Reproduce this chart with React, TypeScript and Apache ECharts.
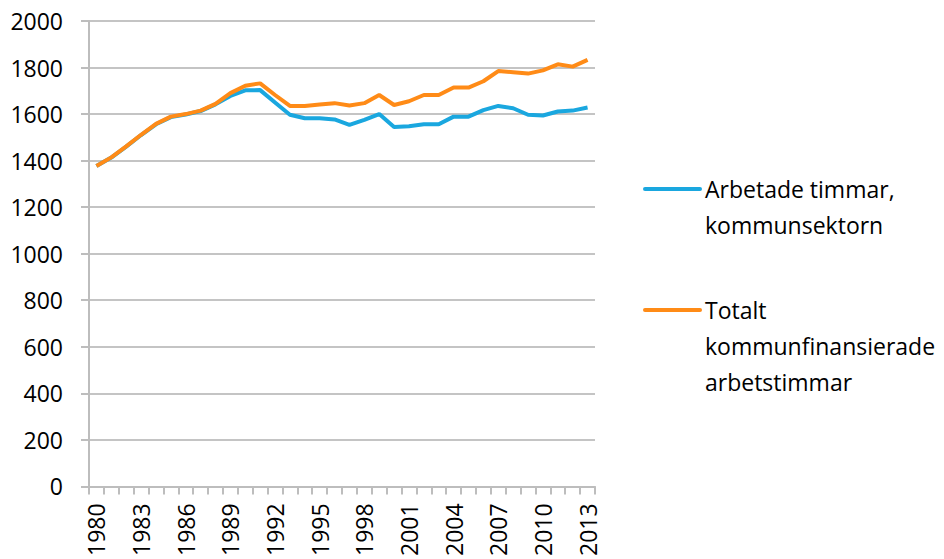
import React, { useEffect, useRef } from "react";
import * as echarts from "echarts";

const years: string[] = [
  "1980","1981","1982","1983","1984","1985","1986","1987","1988","1989",
  "1990","1991","1992","1993","1994","1995","1996","1997","1998","1999",
  "2000","2001","2002","2003","2004","2005","2006","2007","2008","2009",
  "2010","2011","2012","2013",
];

const arbetadeTimmar: number[] = [
  1377, 1413, 1460, 1510, 1556, 1587, 1598, 1613, 1642, 1678,
  1702, 1703, 1650, 1597, 1582, 1582, 1577, 1554, 1575, 1600,
  1544, 1548, 1556, 1556, 1589, 1589, 1617, 1635, 1625, 1597,
  1594, 1611, 1615, 1628,
];

const totaltKommunfinansierade: number[] = [
  1377, 1414, 1461, 1511, 1558, 1589, 1600, 1615, 1644, 1690,
  1722, 1732, 1682, 1635, 1635, 1641, 1647, 1637, 1647, 1682,
  1639, 1655, 1682, 1682, 1714, 1714, 1741, 1785, 1780, 1774,
  1788, 1814, 1804, 1833,
];

const seriesNames: string[] = [
  "Arbetade timmar, kommunsektorn",
  "Totalt kommunfinansierade arbetstimmar",
];

const legendLines: string[][] = [
  ["Arbetade timmar,", "kommunsektorn"],
  ["Totalt", "kommunfinansierade", "arbetstimmar"],
];

const colors: string[] = ["#1aa7df", "#ff8b17"];

const FONT = "'Open Sans', 'Noto Sans', sans-serif";

export default function App() {
  const ref = useRef<HTMLDivElement>(null);

  useEffect(() => {
    if (!ref.current) return;
    const chart = echarts.init(ref.current, undefined, { renderer: "svg" });

    const legendTops = [189, 310];
    const graphic: any[] = [];
    legendLines.forEach((lines, i) => {
      graphic.push({
        type: "line",
        shape: { x1: 645, y1: legendTops[i], x2: 700, y2: legendTops[i] },
        style: { stroke: colors[i], lineWidth: 4, lineCap: "round" },
      });
      graphic.push({
        type: "text",
        x: 705,
        y: legendTops[i] - 18,
        style: {
          text: lines.join("\n"),
          font: `23px ${FONT}`,
          fill: "#000",
          lineHeight: 36,
          verticalAlign: "top",
        },
      });
    });

    chart.setOption({
      animation: false,
      backgroundColor: "#ffffff",
      grid: { left: 89, right: 349, top: 21, bottom: 71, containLabel: false },
      xAxis: {
        type: "category",
        data: years,
        boundaryGap: true,
        axisLine: { show: true, lineStyle: { color: "#bdbdbd", width: 2 } },
        axisTick: {
          show: true,
          interval: 0,
          length: 8,
          lineStyle: { color: "#bdbdbd", width: 2 },
        },
        axisLabel: {
          interval: 2,
          rotate: 90,
          margin: 17,
          color: "#000",
          fontSize: 23,
          fontFamily: FONT,
        },
        splitLine: { show: false },
      },
      yAxis: {
        type: "value",
        min: 0,
        max: 2000,
        interval: 200,
        axisLine: { show: true, lineStyle: { color: "#bdbdbd", width: 2 } },
        axisTick: { show: true, length: 8, lineStyle: { color: "#bdbdbd", width: 2 } },
        axisLabel: {
          margin: 26,
          color: "#000",
          fontSize: 23,
          fontFamily: FONT,
          formatter: (v: number) => String(v),
        },
        splitLine: { show: true, lineStyle: { color: "#c4c4c4", width: 2 } },
      },
      series: [
        {
          name: seriesNames[0],
          type: "line",
          data: arbetadeTimmar,
          symbol: "none",
          lineStyle: { color: colors[0], width: 4 },
          itemStyle: { color: colors[0] },
          z: 3,
        },
        {
          name: seriesNames[1],
          type: "line",
          data: totaltKommunfinansierade,
          symbol: "none",
          lineStyle: { color: colors[1], width: 4 },
          itemStyle: { color: colors[1] },
          z: 4,
        },
      ],
      graphic,
    });

    return () => chart.dispose();
  }, []);

  return <div ref={ref} style={{ width: 944, height: 559, position: "absolute", left: 0, top: 0 }} />;
}
